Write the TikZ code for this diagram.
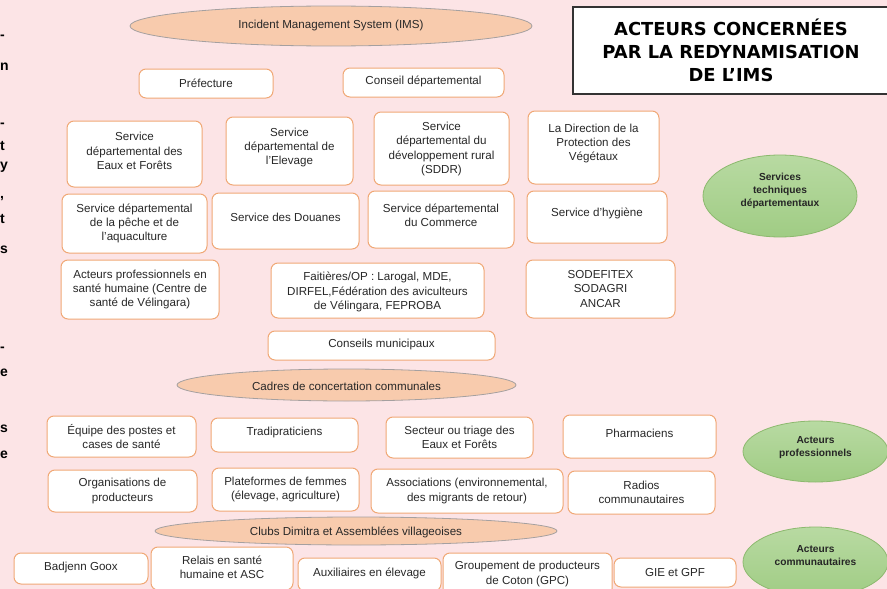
\documentclass[tikz,border=0pt]{standalone}
\usepackage{fontspec}
\setmainfont{Liberation Sans}
\newfontfamily\titlefont{DejaVu Sans}
\usetikzlibrary{shapes.geometric}
\definecolor{bg}{RGB}{252,228,230}
\definecolor{boxc}{RGB}{240,168,118}
\definecolor{ellfill}{RGB}{248,203,173}
\definecolor{elldraw}{RGB}{165,160,160}
\definecolor{gtop}{RGB}{184,218,162}
\definecolor{gbot}{RGB}{160,204,132}
\definecolor{gdraw}{RGB}{140,185,110}
\definecolor{txt}{RGB}{40,40,40}
\tikzset{
  box/.style={draw=boxc, fill=white, rounded corners=7pt, line width=1pt, inner sep=0pt},
  lbl/.style={align=center, inner sep=0pt, text=txt, font=\fontsize{11.6}{14.3}\selectfont},
  oell/.style={ellipse, draw=elldraw, fill=ellfill, line width=0.8pt, inner sep=0pt},
  gell/.style={ellipse, draw=gdraw, top color=gtop, bottom color=gbot, line width=0.8pt, inner sep=0pt},
  glbl/.style={align=center, inner sep=0pt, text=black!85, font=\bfseries\fontsize{10.2}{12.8}\selectfont},
  edge/.style={anchor=west, inner sep=0pt, font=\bfseries\fontsize{14}{14}\selectfont}
}
\newcommand\mybox[7]{%
  \node[box, minimum width={(#4)-(#2)}, minimum height={(#5)-(#3)}] (#1) at ({((#2)+(#4))/2},{((#3)+(#5))/2}) {};
  \node[lbl] (#1-t) at ({((#2)+(#4))/2},{((#3)+(#5))/2+(#6)}) {#7};}
\begin{document}
\begin{tikzpicture}[x=1pt,y=-1pt]
\useasboundingbox (0,0) rectangle (887,589);
\clip (0,0) rectangle (887,589);
\fill[bg] (0,0) rectangle (887,589);

% fragments of neighbouring text at the left edge
\node[edge] (e1) at (0,37) {-};
\node[edge] (e2) at (0,67) {n};
\node[edge] (e3) at (0,125) {-};
\node[edge] (e4) at (0,146) {t};
\node[edge] (e5) at (0,167) {y};
\node[edge] (e6) at (0,199) {,};
\node[edge] (e7) at (0,219) {t};
\node[edge] (e8) at (0,250) {s};
\node[edge] (e9) at (0,349) {-};
\node[edge] (e10) at (0,373) {e};
\node[edge] (e11) at (0,429) {s};
\node[edge] (e12) at (0,455) {e};

% title
\node[draw=black!80, fill=white, line width=1.2pt, minimum width=316, minimum height=87, inner sep=0pt] (title) at (731,50.5) {};
\node[align=center, inner sep=0pt, font=\titlefont\bfseries\fontsize{17.9}{23}\selectfont] (title-t) at (731,50) {ACTEURS CONCERNÉES\\PAR LA REDYNAMISATION\\DE L’IMS};

% ellipses
\node[oell, minimum width=402, minimum height=40] (ims) at (331,26) {};
\node[lbl] (ims-t) at (331,25.5) {Incident Management System (IMS)};
\node[oell, minimum width=339, minimum height=32] (cadres) at (346.5,385) {};
\node[lbl] (cadres-t) at (346.5,386.5) {Cadres de concertation communales};
\node[oell, minimum width=402, minimum height=28] (clubs) at (356,531) {};
\node[lbl] (clubs-t) at (356,532.5) {Clubs Dimitra et Assemblées villageoises};

\node[gell, minimum width=154, minimum height=82] (g1) at (780,196) {};
\node[glbl] (g1-t) at (780,191) {Services\\techniques\\départementaux};
\node[gell, minimum width=145, minimum height=61] (g2) at (815.5,451.5) {};
\node[glbl] (g2-t) at (815.5,447.5) {Acteurs\\professionnels};
\node[gell, minimum width=145, minimum height=70] (g3) at (815.5,562) {};
\node[glbl] (g3-t) at (815.5,555.5) {Acteurs\\communautaires};

% boxes
\mybox{pref}{139}{69}{273}{98}{0}{Préfecture}
\mybox{cd}{343}{68}{504}{97}{-1}{Conseil départemental}
\mybox{ef}{67}{121}{202}{187}{-3}{Service\\départemental des\\Eaux et Forêts}
\mybox{elev}{226}{117}{353}{185}{-3.5}{Service\\départemental de\\l'Elevage}
\mybox{sddr}{374}{112}{509}{185}{0.5}{Service\\départemental du\\développement rural\\(SDDR)}
\mybox{dpv}{528}{111}{659}{184}{-4}{La Direction de la\\Protection des\\Végétaux}
\mybox{peche}{62}{194}{207}{253}{0}{Service départemental\\de la pêche et de\\l'aquaculture}
\mybox{douanes}{212}{193}{359}{249}{-4}{Service des Douanes}
\mybox{commerce}{368}{191}{514}{248}{-4}{Service départemental\\du Commerce}
\mybox{hyg}{527}{191}{667}{243}{-4}{Service d'hygiène}
\mybox{apsh}{61}{260}{219}{319}{0}{Acteurs professionnels en\\santé humaine (Centre de\\santé de Vélingara)}
\mybox{fait}{271}{263}{484}{318}{1.5}{Faitières/OP : Larogal, MDE,\\DIRFEL,Fédération des aviculteurs\\de Vélingara, FEPROBA}
\mybox{sodef}{526}{260}{675}{318}{0}{SODEFITEX\\SODAGRI\\ANCAR}
\mybox{cm}{268}{331}{495}{360}{-1.5}{Conseils municipaux}
\mybox{equipe}{47}{416}{196}{457}{0}{Équipe des postes et\\cases de santé}
\mybox{tradi}{211}{418}{358}{452}{-3}{Tradipraticiens}
\mybox{secteur}{386}{417}{533}{458}{0}{Secteur ou triage des\\Eaux et Forêts}
\mybox{pharma}{563}{415}{716}{458}{-3.5}{Pharmaciens}
\mybox{org}{48}{470}{197}{512}{0}{Organisations de\\producteurs}
\mybox{plat}{212}{468}{359}{511}{0}{Plateformes de femmes\\(élevage, agriculture)}
\mybox{assoc}{371}{469}{563}{513}{0}{Associations (environnemental,\\des migrants de retour)}
\mybox{radios}{568}{471}{715}{514}{0}{Radios\\communautaires}
\mybox{badjenn}{14}{553}{148}{584}{-1.5}{Badjenn Goox}
\mybox{relais}{151}{547}{293}{590}{-1}{Relais en santé\\humaine et ASC}
\mybox{aux}{298}{558}{441}{591}{-1.5}{Auxiliaires en élevage}
\mybox{gpc}{443}{553}{612}{596}{-0.5}{Groupement de producteurs\\de Coton (GPC)}
\mybox{gie}{614}{558}{736}{587}{0}{GIE et GPF}
\end{tikzpicture}
\end{document}
